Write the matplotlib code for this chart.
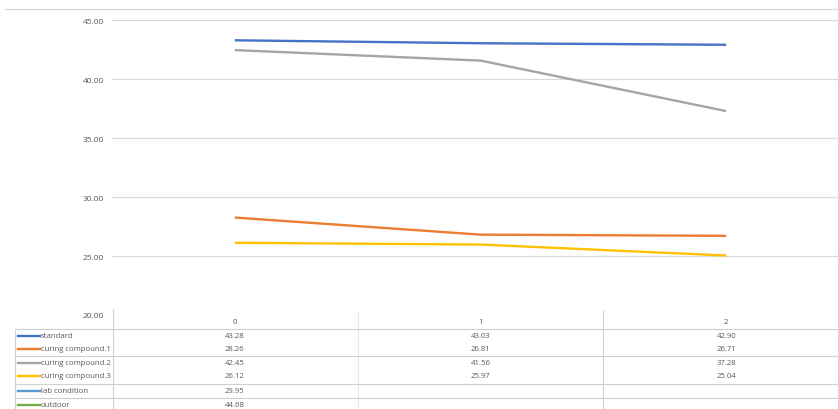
import matplotlib
matplotlib.use("Agg")
import matplotlib.pyplot as plt
from matplotlib import transforms
from matplotlib.lines import Line2D

plt.rcParams['font.family'] = ['Open Sans', 'DejaVu Sans']

# Chart data
categories = ["0", "1", "2"]
series_names = ["standard", "curing compound.1", "curing compound.2",
                "curing compound.3", "lab condition", "outdoor"]
standard = [43.28, 43.03, 42.90]
curing_1 = [28.26, 26.81, 26.71]
curing_2 = [42.45, 41.56, 37.28]
curing_3 = [26.12, 25.97, 25.04]
lab_condition = [29.95]
outdoor = [44.68]
series_values = [standard, curing_1, curing_2, curing_3, lab_condition, outdoor]
colors = ["#4472C4", "#ED7D31", "#A5A5A5", "#FFC000", "#5B9BD5", "#70AD47"]
y_ticks = [20, 25, 30, 35, 40, 45]

W, H = 838, 410
fig = plt.figure(figsize=(W / 100, H / 100), dpi=100)

def fy(py):
    return 1 - py / H

def fx(px):
    return px / W

ax = fig.add_axes([fx(112), fy(316), fx(849 - 112), (316 - 21) / H])
ax.set_xlim(-0.5, len(categories) - 0.5)
ax.set_ylim(y_ticks[0], y_ticks[-1])

for vals, col in zip(series_values, colors):
    ax.plot(range(len(vals)), vals, color=col, lw=1.7, solid_capstyle="butt")

grid_col = "#D9D9D9"
for t in y_ticks[1:]:
    ax.axhline(t, color=grid_col, lw=0.9, zorder=0)
ax.set_yticks(y_ticks)
ax.set_yticklabels([f"{t:.2f}" for t in y_ticks])
ax.tick_params(axis="y", length=0, pad=6, labelsize=6.0, labelcolor="#595959")
ax.set_xticks([])
for s in ax.spines.values():
    s.set_visible(False)

# Top border of the chart area
fig.add_artist(Line2D([fx(5), 1], [fy(10), fy(10)], color=grid_col, lw=0.9))

# Data table below the plot
trans = transforms.blended_transform_factory(ax.transData, fig.transFigure)
txt_col = "#595959"
fs = 5.6

header_y = 322
row_y = [337, 350, 364, 377, 392, 406]
for i, c in enumerate(categories):
    ax.text(i, fy(header_y), c, transform=trans, ha="center", va="center",
            fontsize=fs, color=txt_col, clip_on=False)

for r, (name, vals, col) in enumerate(zip(series_names, series_values, colors)):
    y = fy(row_y[r])
    fig.add_artist(Line2D([fx(18), fx(40)], [y, y], color=col, lw=1.7))
    fig.text(fx(41), y, name, ha="left", va="center", fontsize=fs, color=txt_col)
    for i, v in enumerate(vals):
        ax.text(i, y, f"{v:.2f}", transform=trans, ha="center", va="center",
                fontsize=fs, color=txt_col, clip_on=False)

line_col = "#D0D0D0"
for py in [330, 357, 385, 399]:
    fig.add_artist(Line2D([fx(15), 1], [fy(py), fy(py)], color=line_col, lw=0.8))
fig.add_artist(Line2D([fx(15), fx(15)], [fy(330), 0], color=line_col, lw=0.8))
fig.add_artist(Line2D([fx(113), fx(113)], [fy(310), 0], color=line_col, lw=0.8))
for xb, lc in [(0.5, "#E6E6E6"), (1.5, line_col)]:
    ax.add_artist(Line2D([xb, xb], [fy(312), 0], transform=trans, color=lc,
                         lw=0.8, clip_on=False))

fig.savefig("out.png", dpi=100, facecolor="white")
